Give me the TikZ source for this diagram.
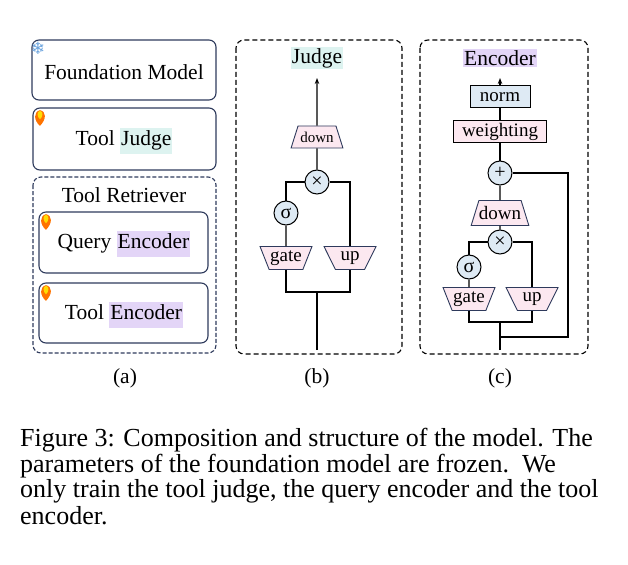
\documentclass[tikz,border=0pt]{standalone}
\usepackage{fontspec}
\setmainfont{Liberation Serif}
\newfontfamily\djv{DejaVu Sans}
\usetikzlibrary{shapes.geometric,arrows.meta}
\definecolor{nav}{HTML}{2E3A5C}
\definecolor{pk}{HTML}{FCE8F0}
\definecolor{bl}{HTML}{DEEAF4}
\definecolor{cy}{HTML}{DDF3F0}
\definecolor{lv}{HTML}{E3D5F7}
\setlength{\fboxsep}{1pt}
\begin{document}
\begin{tikzpicture}[x=1pt,y=-1pt,
 box/.style={draw=nav,line width=1.1pt,rounded corners=7pt},
 dbox/.style={draw=black,line width=1.1pt,dashed,dash pattern=on 5pt off 3pt,rounded corners=8pt},
 ddbox/.style={draw=nav,line width=1.1pt,dash pattern=on 4pt off 2pt,rounded corners=8pt},
 lab/.style={font=\fontsize{21.5}{24}\selectfont,inner sep=1pt},
 trap/.style={trapezium,draw=nav,fill=pk,line width=0.9pt,trapezium stretches=true,inner sep=0pt,font=\fontsize{19}{20}\selectfont},
 inv/.style={trap,shape border rotate=180},
 circ/.style={circle,draw=black,fill=bl,line width=1pt,minimum size=24pt,inner sep=0pt,font=\fontsize{20}{20}\selectfont},
 rbox/.style={draw=black,line width=1pt,inner sep=0pt,font=\fontsize{19}{20}\selectfont},
 ln/.style={line width=1.1pt},
 captxt/.style={font=\fontsize{26}{30}\selectfont,anchor=west,inner sep=0pt},
 flame/.pic={\begin{scope}[scale=1.3]\fill[orange!90!red] (0,6) .. controls (-5,2) and (-5,-5) .. (0,-6) .. controls (5,-5) and (5,1) .. (0,6);
   \fill[yellow!80!orange] (0,1) .. controls (-2.5,-1) and (-2.5,-5) .. (0,-5.5) .. controls (2.5,-5) and (2.5,-1) .. (0,1);\end{scope}}
]
\useasboundingbox (0,0) rectangle (628,564);
% (a)
\draw[box] (32,40) rectangle (216,100);
\node[lab] (fm) at (124,72) {Foundation Model};
\node[font=\djv\fontsize{17}{17}\selectfont,text=cyan!60!blue!60,inner sep=0pt] (sf) at (38,48) {❄};
\draw[box] (33,108) rectangle (216,170);
\node[lab] (tj) at (124,141) {Tool \colorbox{cy}{\strut Judge}};
\pic at (40,118) {flame};
\draw[ddbox] (33,177) rectangle (216,353);
\node[lab] (tr) at (124,195) {Tool Retriever};
\draw[box] (39,212) rectangle (208,273);
\node[lab] (qe) at (124,244) {Query \colorbox{lv}{\strut Encoder}};
\pic at (46,222) {flame};
\draw[box] (39,283) rectangle (208,343);
\node[lab] (te) at (124,315) {Tool \colorbox{lv}{\strut Encoder}};
\pic at (46,293) {flame};
\node[lab] (ca) at (125,378) {(a)};
% (b)
\draw[dbox] (236,40) rectangle (402,354);
\node[lab,fill=cy] (bj) at (317,58) {Judge};
\node[inv,minimum width=52pt,minimum height=23pt] (bg) at (286,258) {gate};
\node[inv,minimum width=52pt,minimum height=23pt] (bu) at (350,258) {up};
\node[circ] (bs) at (286,213) {σ};
\node[circ] (bx) at (317,182) {×};
\node[trap,minimum width=52pt,minimum height=22pt] (bd) at (317,137) {\fontsize{15}{16}\selectfont down};
\coordinate (bb) at (317,350);
\coordinate (bm) at (317,292);
\draw[ln] (bb) -- (bm);
\draw[ln] (bg.south) |- (bm) -| (bu.south);
\draw[ln] (bg.north) -- (bs);
\draw[ln] (bs.north) |- (bx.west);
\draw[ln] (bu.north) |- (bx.east);
\draw[ln] (bx) -- (bd.south);
\draw[ln,-{Stealth[length=6pt]}] (bd.north) -- (317,78);
\node[lab] (cb) at (317,378) {(b)};
% (c)
\draw[dbox] (420,40) rectangle (588,354);
\node[lab,fill=lv] (ce) at (500,58) {Encoder};
\node[rbox,fill=bl,minimum width=60pt,minimum height=22pt] (cn) at (500,97) {norm};
\node[rbox,fill=pk,minimum width=93pt,minimum height=22pt] (cw) at (500,132) {weighting};
\node[circ] (cp) at (500,173) {+};
\node[trap,minimum width=56pt,minimum height=25pt] (cd) at (500,213) {down};
\node[circ] (cx) at (500,242) {×};
\node[circ] (cs) at (469,267) {σ};
\node[inv,minimum width=52pt,minimum height=23pt] (cg) at (469,299) {gate};
\node[inv,minimum width=52pt,minimum height=23pt] (cu) at (532,299) {up};
\coordinate (cb0) at (500,350);
\coordinate (cm) at (500,322);
\coordinate (cr) at (500,337);
\coordinate (cr2) at (568,337);
\draw[ln] (cb0) -- (cm);
\draw[ln] (cg.south) |- (cm) -| (cu.south);
\draw[ln] (cg.north) -- (cs);
\draw[ln] (cs.north) |- (cx.west);
\draw[ln] (cu.north) |- (cx.east);
\draw[ln] (cx) -- (cd.south);
\draw[ln] (cd.north) -- (cp);
\draw[ln] (cp) -- (cw);
\draw[ln] (cw) -- (cn);
\draw[ln,-{Stealth[length=6pt]}] (cn.north) -- (500,78);
\draw[ln] (cr) -- (cr2) |- (cp.east);
\node[lab] (cc) at (500,378) {(c)};
% caption
\node[captxt] (l1) at (20,440) {Figure 3: Composition and structure of the model. The};
\node[captxt] (l2) at (20,466) {parameters of the foundation model are frozen.\ \ We};
\node[captxt] (l3) at (20,491) {only train the tool judge, the query encoder and the tool};
\node[captxt] (l4) at (20,516) {encoder.};
\end{tikzpicture}
\end{document}
